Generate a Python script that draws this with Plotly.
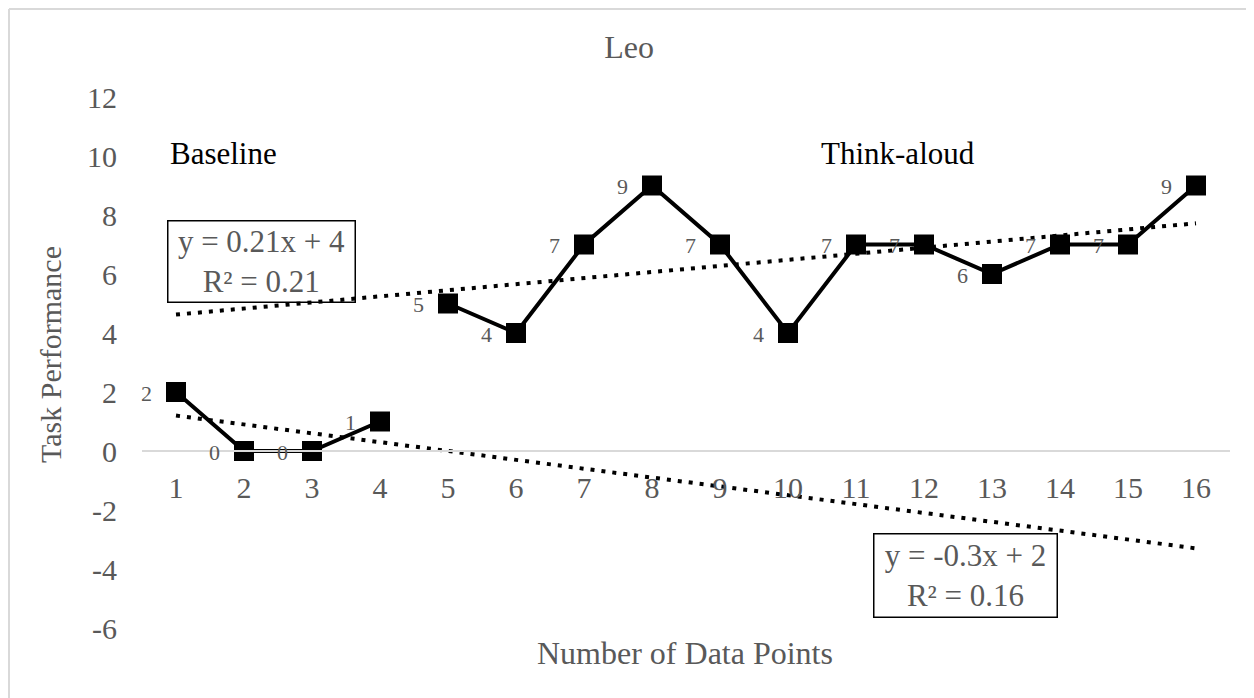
import numpy as np
import plotly.graph_objects as go

# ---------------- data ----------------
chart_title = "Leo"
x_title = "Number of Data Points"
y_title = "Task Performance"

x_baseline = [1, 2, 3, 4]
y_baseline = [2, 0, 0, 1]

x_think = [5, 6, 7, 8, 9, 10, 11, 12, 13, 14, 15, 16]
y_think = [5, 4, 7, 9, 7, 4, 7, 7, 6, 7, 7, 9]

x_tick_vals = list(range(1, 17))
y_tick_vals = list(range(-6, 13, 2))

phase_names = ["Baseline", "Think-aloud"]
eq_baseline = "y = -0.3x + 2<br>R² = 0.16"
eq_think = "y = 0.21x + 4<br>R² = 0.21"

# ---------------- styles ----------------
FONT = "Liberation Serif, Times New Roman, serif"
GRAY = "#595959"
OFF = 8  # page body margin
W, H = 1254 - OFF, 698 - OFF
L, R = 142 - OFF, 24
T = 97 - OFF
B = H - (628 - OFF)
PW = W - L - R
PH = H - T - B


def px_x(p):
    return (p - OFF - L) / PW


def px_y(p):
    return (H - B - (p - OFF)) / PH


trend_x = [x_tick_vals[0], x_tick_vals[-1]]
kb = np.polyfit(x_baseline, y_baseline, 1)
kt = np.polyfit(x_think, y_think, 1)
trend_base = np.polyval(kb, trend_x)
trend_think = np.polyval(kt, trend_x)

fig = go.Figure()

dot = dict(color="black", width=4, dash="4px,7px")
fig.add_trace(go.Scatter(x=trend_x, y=trend_think, mode="lines", line=dot,
                         hoverinfo="skip", showlegend=False))
fig.add_trace(go.Scatter(x=trend_x, y=trend_base, mode="lines", line=dot,
                         hoverinfo="skip", showlegend=False))

series_style = dict(
    mode="lines+markers",
    line=dict(color="black", width=4),
    marker=dict(symbol="square", size=20, color="black"),
    showlegend=False,
    cliponaxis=False,
)
fig.add_trace(go.Scatter(x=x_baseline, y=y_baseline, **series_style))
fig.add_trace(go.Scatter(x=x_think, y=y_think, **series_style))

fig.update_layout(
    width=W, height=H,
    margin=dict(l=L, r=R, t=T, b=B),
    paper_bgcolor="white", plot_bgcolor="white",
    font=dict(family=FONT, size=30, color=GRAY),
    title=dict(text=chart_title, x=(629 - OFF) / W, xref="container", xanchor="center",
               y=1 - (47 - OFF) / H, yref="container", yanchor="middle",
               font=dict(family=FONT, size=32, color=GRAY)),
    xaxis=dict(range=[0.5, 16.5], tickvals=x_tick_vals,
               ticktext=[str(v) for v in x_tick_vals],
               showgrid=False, zeroline=False,
               showline=True, linecolor="#d9d9d9", linewidth=1.5,
               anchor="free", position=(0 - y_tick_vals[0]) / (y_tick_vals[-1] - y_tick_vals[0]),
               ticks="", ticklabelstandoff=10,
               tickfont=dict(family=FONT, size=30, color=GRAY)),
    yaxis=dict(range=[y_tick_vals[0], y_tick_vals[-1]], tickvals=y_tick_vals,
               ticktext=[str(v) for v in y_tick_vals],
               showgrid=False, zeroline=False, showline=False,
               ticks="", ticklabelstandoff=24,
               tickfont=dict(family=FONT, size=30, color=GRAY)),
)

annotations = [
    dict(text=y_title, xref="paper", yref="paper", x=px_x(50), y=px_y(355),
         textangle=-90, showarrow=False, xanchor="center", yanchor="middle",
         font=dict(family=FONT, size=30, color=GRAY)),
    dict(text=x_title, xref="paper", yref="paper", x=px_x(685), y=px_y(653),
         showarrow=False, xanchor="center", yanchor="middle",
         font=dict(family=FONT, size=32, color=GRAY)),
    dict(text=phase_names[0], xref="paper", yref="paper", x=px_x(223), y=px_y(153),
         showarrow=False, xanchor="center", yanchor="middle",
         font=dict(family=FONT, size=31, color="black")),
    dict(text=phase_names[1], xref="paper", yref="paper", x=px_x(898), y=px_y(153),
         showarrow=False, xanchor="center", yanchor="middle",
         font=dict(family=FONT, size=31, color="black")),
    dict(text=eq_think, xref="paper", yref="paper", x=px_x(261), y=px_y(261.5),
         showarrow=False, xanchor="center", yanchor="middle", align="center",
         bordercolor="black", borderwidth=1.5, borderpad=3, width=180, height=74,
         font=dict(family=FONT, size=31, color=GRAY)),
    dict(text=eq_baseline, xref="paper", yref="paper", x=px_x(965), y=px_y(575.5),
         showarrow=False, xanchor="center", yanchor="middle", align="center",
         bordercolor="black", borderwidth=1.5, borderpad=3, width=176, height=76,
         font=dict(family=FONT, size=31, color=GRAY)),
]
for xs, ys in ((x_baseline, y_baseline), (x_think, y_think)):
    for xv, yv in zip(xs, ys):
        annotations.append(dict(text=str(yv), x=xv, y=yv, xref="x", yref="y",
                                showarrow=False, xanchor="center", yanchor="middle",
                                xshift=-30, yshift=-1,
                                font=dict(family=FONT, size=22, color=GRAY)))
fig.update_layout(annotations=annotations)

# light chart-area border (left and top visible in the frame)
fig.add_shape(type="line", xref="paper", yref="paper",
              x0=px_x(9), y0=px_y(9), x1=px_x(9), y1=px_y(720),
              line=dict(color="#d9d9d9", width=2), layer="above")
fig.add_shape(type="line", xref="paper", yref="paper",
              x0=px_x(9), y0=px_y(9), x1=px_x(1300), y1=px_y(9),
              line=dict(color="#d9d9d9", width=2), layer="above")

fig.write_html("out.html")
